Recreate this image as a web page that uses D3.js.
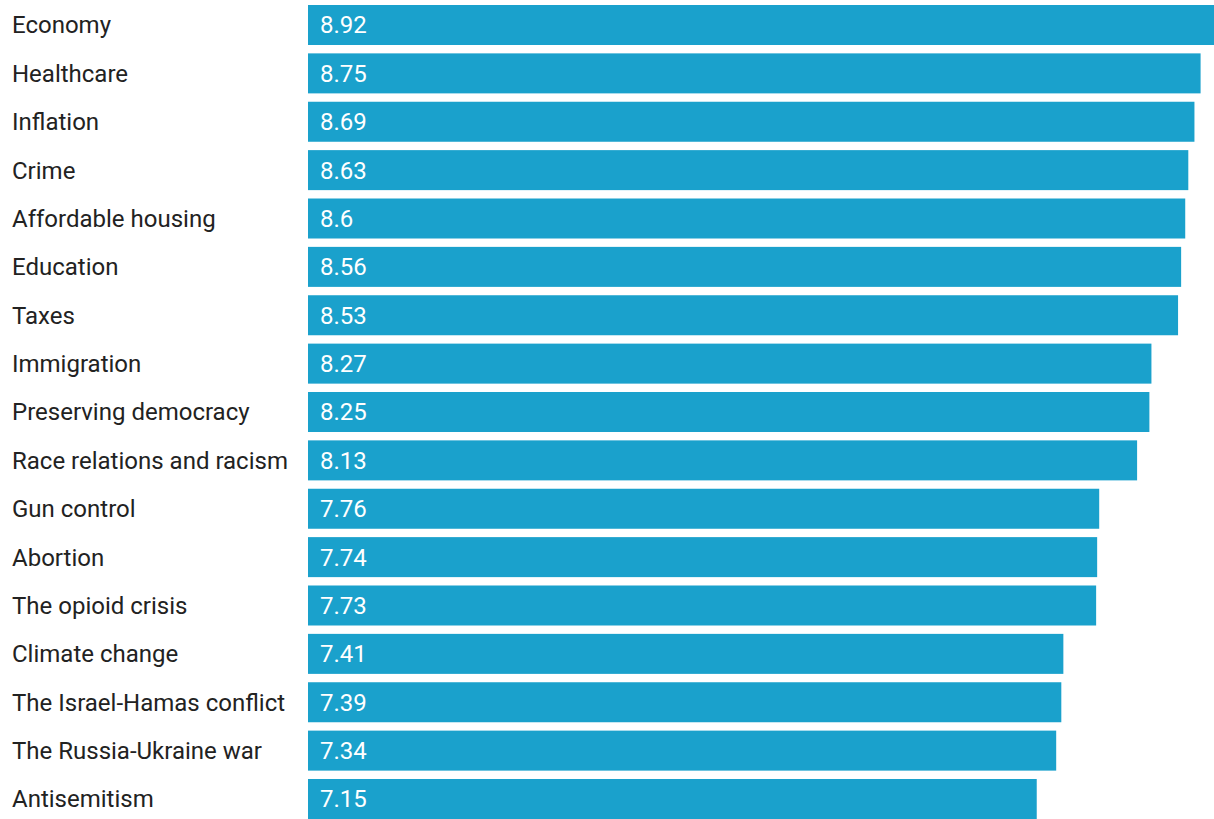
<!DOCTYPE html>
<html><head><meta charset="utf-8">
<script src="https://cdn.jsdelivr.net/npm/d3@7"></script>
<style>body{margin:0;background:#fff;} svg{display:block;}</style>
</head><body>
<svg id="c" width="1214" height="819"></svg>
<script>
const categories = ["Economy","Healthcare","Inflation","Crime","Affordable housing","Education","Taxes","Immigration","Preserving democracy","Race relations and racism","Gun control","Abortion","The opioid crisis","Climate change","The Israel-Hamas conflict","The Russia-Ukraine war","Antisemitism"];
const values = [8.92,8.75,8.69,8.63,8.6,8.56,8.53,8.27,8.25,8.13,7.76,7.74,7.73,7.41,7.39,7.34,7.15];
const valueLabels = ["8.92","8.75","8.69","8.63","8.6","8.56","8.53","8.27","8.25","8.13","7.76","7.74","7.73","7.41","7.39","7.34","7.15"];

const svg = d3.select("#c");
const x = d3.scaleLinear().domain([0, 8.92]).range([304.5, 1218]);
const barStart = 308;
const y = d3.scaleBand().domain(categories).range([5, 819]).paddingInner(0.173).paddingOuter(0);
const data = categories.map((c,i)=>({c, v: values[i], l: valueLabels[i]}));
const font = "Roboto, sans-serif";

svg.selectAll("rect.bar").data(data).join("rect")
  .attr("class","bar")
  .attr("x", barStart).attr("y", d=>y(d.c))
  .attr("width", d=>x(d.v)-barStart).attr("height", y.bandwidth())
  .attr("fill", "#1aa1cc");

svg.selectAll("text.cat").data(data).join("text")
  .attr("class","cat")
  .attr("x", 12).attr("y", d=>y(d.c)+y.bandwidth()/2)
  .attr("dy","0.35em")
  .attr("font-family", font).attr("font-size", 24)
  .attr("fill", "#222")
  .text(d=>d.c);

svg.selectAll("text.val").data(data).join("text")
  .attr("class","val")
  .attr("x", barStart+12).attr("y", d=>y(d.c)+y.bandwidth()/2)
  .attr("dy","0.35em")
  .attr("font-family", font).attr("font-size", 24)
  .attr("fill", "#fff")
  .text(d=>d.l);
</script>
</body></html>
